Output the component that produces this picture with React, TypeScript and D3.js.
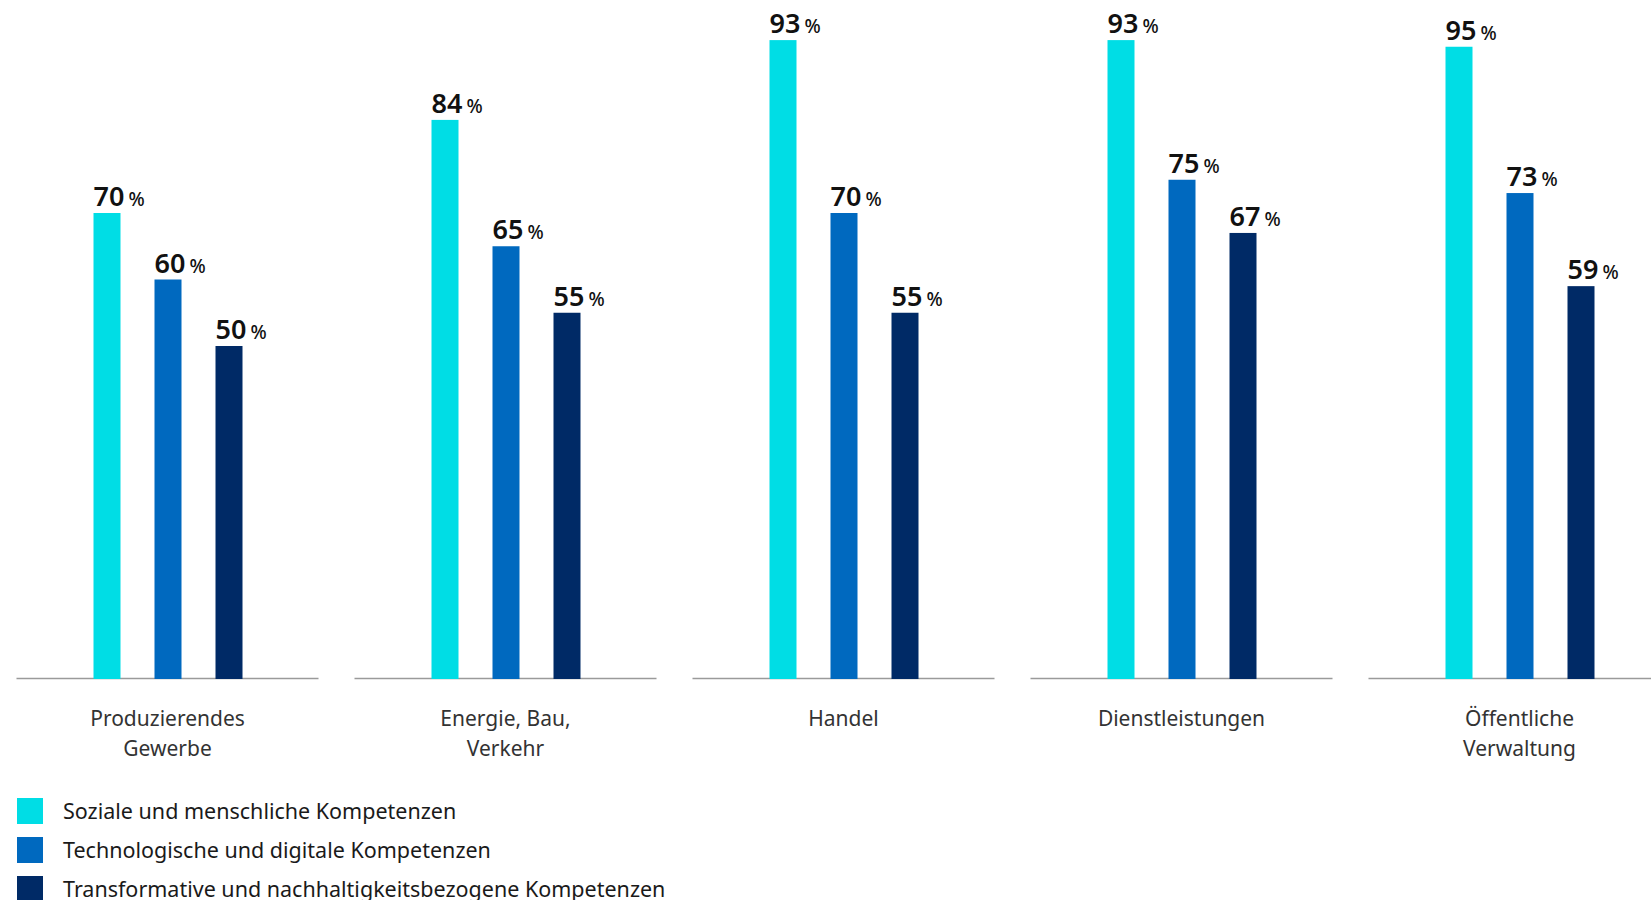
import React from "react";
import * as d3 from "d3";

const categories = ["Produzierendes Gewerbe", "Energie, Bau, Verkehr", "Handel", "Dienstleistungen", "Öffentliche Verwaltung"];
const categoryLines = [["Produzierendes", "Gewerbe"], ["Energie, Bau,", "Verkehr"], ["Handel"], ["Dienstleistungen"], ["Öffentliche", "Verwaltung"]];
const seriesNames = ["Soziale und menschliche Kompetenzen", "Technologische und digitale Kompetenzen", "Transformative und nachhaltigkeitsbezogene Kompetenzen"];
const seriesColors = ["#00DDE5", "#0069BF", "#002A66"];
// bar heights as drawn in the picture
const sozial = [70, 84, 96, 96, 95];
const technologisch = [60, 65, 70, 75, 73];
const transformativ = [50, 55, 55, 67, 59];
// printed labels
const sozialLabels = [70, 84, 93, 93, 95];
const technologischLabels = [60, 65, 70, 75, 73];
const transformativLabels = [50, 55, 55, 67, 59];
const seriesValues = [sozial, technologisch, transformativ];
const seriesLabels = [sozialLabels, technologischLabels, transformativLabels];

const W = 1651;
const H = 900;
const FONT = "'Noto Sans', sans-serif";

export default function App() {
  const baseY = 678.5;
  const y = d3.scaleLinear().domain([0, 100]).range([baseY, 13.5]);
  const panel = d3.scaleBand<string>().domain(categories).range([16.5, 1670.5]).paddingInner(36 / 338).paddingOuter(0);
  const inner = d3.scaleBand<string>().domain(seriesNames).range([77, 226]).paddingInner(34 / 61).paddingOuter(0);

  return (
    <svg width={W} height={H} style={{ position: "absolute", left: 0, top: 0, background: "#fff" }} fontFamily={FONT}>
      {categories.map((cat, ci) => {
        const px = panel(cat)!;
        const bw = panel.bandwidth();
        return (
          <g key={cat}>
            <line x1={px} x2={px + bw} y1={baseY} y2={baseY} stroke="#9a9a9a" strokeWidth={1.6} />
            {seriesNames.map((s, si) => {
              const v = seriesValues[si][ci];
              const bx = px + inner(s)!;
              const top = y(v);
              return (
                <g key={s}>
                  <rect x={bx} y={top} width={inner.bandwidth()} height={baseY + 0.5 - top} fill={seriesColors[si]} />
                  <text x={bx} y={top - 7} fontSize={27} fontWeight={600} fill="#111">
                    {seriesLabels[si][ci]}
                    <tspan dx={4} fontSize={19} fontWeight={500}>%</tspan>
                  </text>
                </g>
              );
            })}
            {categoryLines[ci].map((ln, li) => (
              <text key={li} x={px + bw / 2} y={725.5 + li * 30} textAnchor="middle" fontSize={21} fill="#333">
                {ln}
              </text>
            ))}
          </g>
        );
      })}
      {seriesNames.map((s, si) => (
        <g key={s}>
          <rect x={17} y={798 + si * 39} width={26} height={26} fill={seriesColors[si]} />
          <text x={63} y={819 + si * 39} fontSize={21.5} fill="#1a1a1a">{s}</text>
        </g>
      ))}
    </svg>
  );
}
